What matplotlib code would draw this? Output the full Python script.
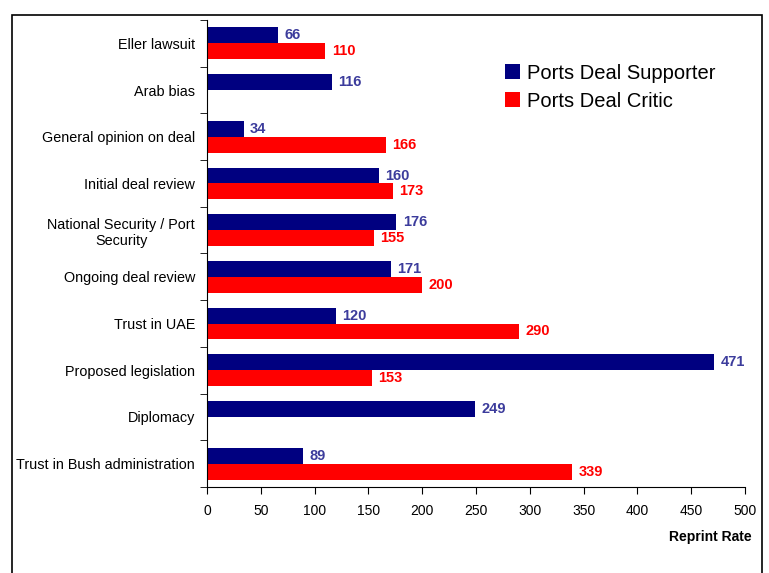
import numpy as np
import matplotlib
matplotlib.use("Agg")
import matplotlib.pyplot as plt
from matplotlib.patches import Rectangle

plt.rcParams['font.family'] = ['Liberation Sans', 'DejaVu Sans']

# dane
categories = ["Eller lawsuit", "Arab bias", "General opinion on deal",
              "Initial deal review", "National Security / Port\nSecurity",
              "Ongoing deal review", "Trust in UAE", "Proposed legislation",
              "Diplomacy", "Trust in Bush administration"]
supporter = [66, 116, 34, 160, 176, 171, 120, 471, 249, 89]
critic = [110, np.nan, 166, 173, 155, 200, 290, 153, np.nan, 339]
series_names = ["Ports Deal Supporter", "Ports Deal Critic"]
xticks = [0, 50, 100, 150, 200, 250, 300, 350, 400, 450, 500]

navy = "#000080"
red = "#ff0000"
navy_txt = "#3c3c9c"

fig = plt.figure(figsize=(7.69, 5.73), dpi=100)
# ramka wokol wykresu
fig.patches.append(Rectangle((12/769, -0.01), (762-12)/769, 1 - 15/573 + 0.01,
                             transform=fig.transFigure, fill=False,
                             edgecolor="black", linewidth=1.2))
ax = fig.add_axes([207/769, 1 - 487/573, (745-207)/769, (487-20)/573])

y = np.arange(len(categories))
h = 0.34
ax.barh(y - h/2, supporter, height=h, color=navy, label=series_names[0])
ax.barh(y + h/2, critic, height=h, color=red, label=series_names[1])

for i in range(len(categories)):
    if not np.isnan(supporter[i]):
        ax.text(supporter[i] + 6, y[i] - h/2, str(supporter[i]), va="center",
                ha="left", color=navy_txt, fontweight="bold", fontsize=10.5)
    if not np.isnan(critic[i]):
        ax.text(critic[i] + 6, y[i] + h/2, str(int(critic[i])), va="center",
                ha="left", color=red, fontweight="bold", fontsize=10.5)

ax.set_xlim(0, 500)
ax.set_ylim(len(categories) - 0.5, -0.5)
ax.set_xticks(xticks)
ax.set_xticklabels([str(t) for t in xticks], fontsize=10)
ax.set_yticks(y)
ax.set_yticklabels(categories, fontsize=10.4, multialignment="center")
ax.tick_params(axis="y", length=0, pad=8.6)
ax.set_yticks(np.arange(-0.5, len(categories)), minor=True)
ax.tick_params(axis="y", which="minor", length=5, direction="out")
ax.tick_params(axis="x", length=5, direction="out", pad=7)
ax.spines["top"].set_visible(False)
ax.spines["right"].set_visible(False)

fig.text(752/769, 1 - 537/573, "Reprint Rate", ha="right", va="center",
         fontweight="bold", fontsize=10)

ax.legend(loc="upper left", bbox_to_anchor=(0.52, 0.945), frameon=False,
          fontsize=14.5, handlelength=0.75, handleheight=0.75, handletextpad=0.35,
          labelspacing=0.45)

plt.savefig("out.png", dpi=100)
